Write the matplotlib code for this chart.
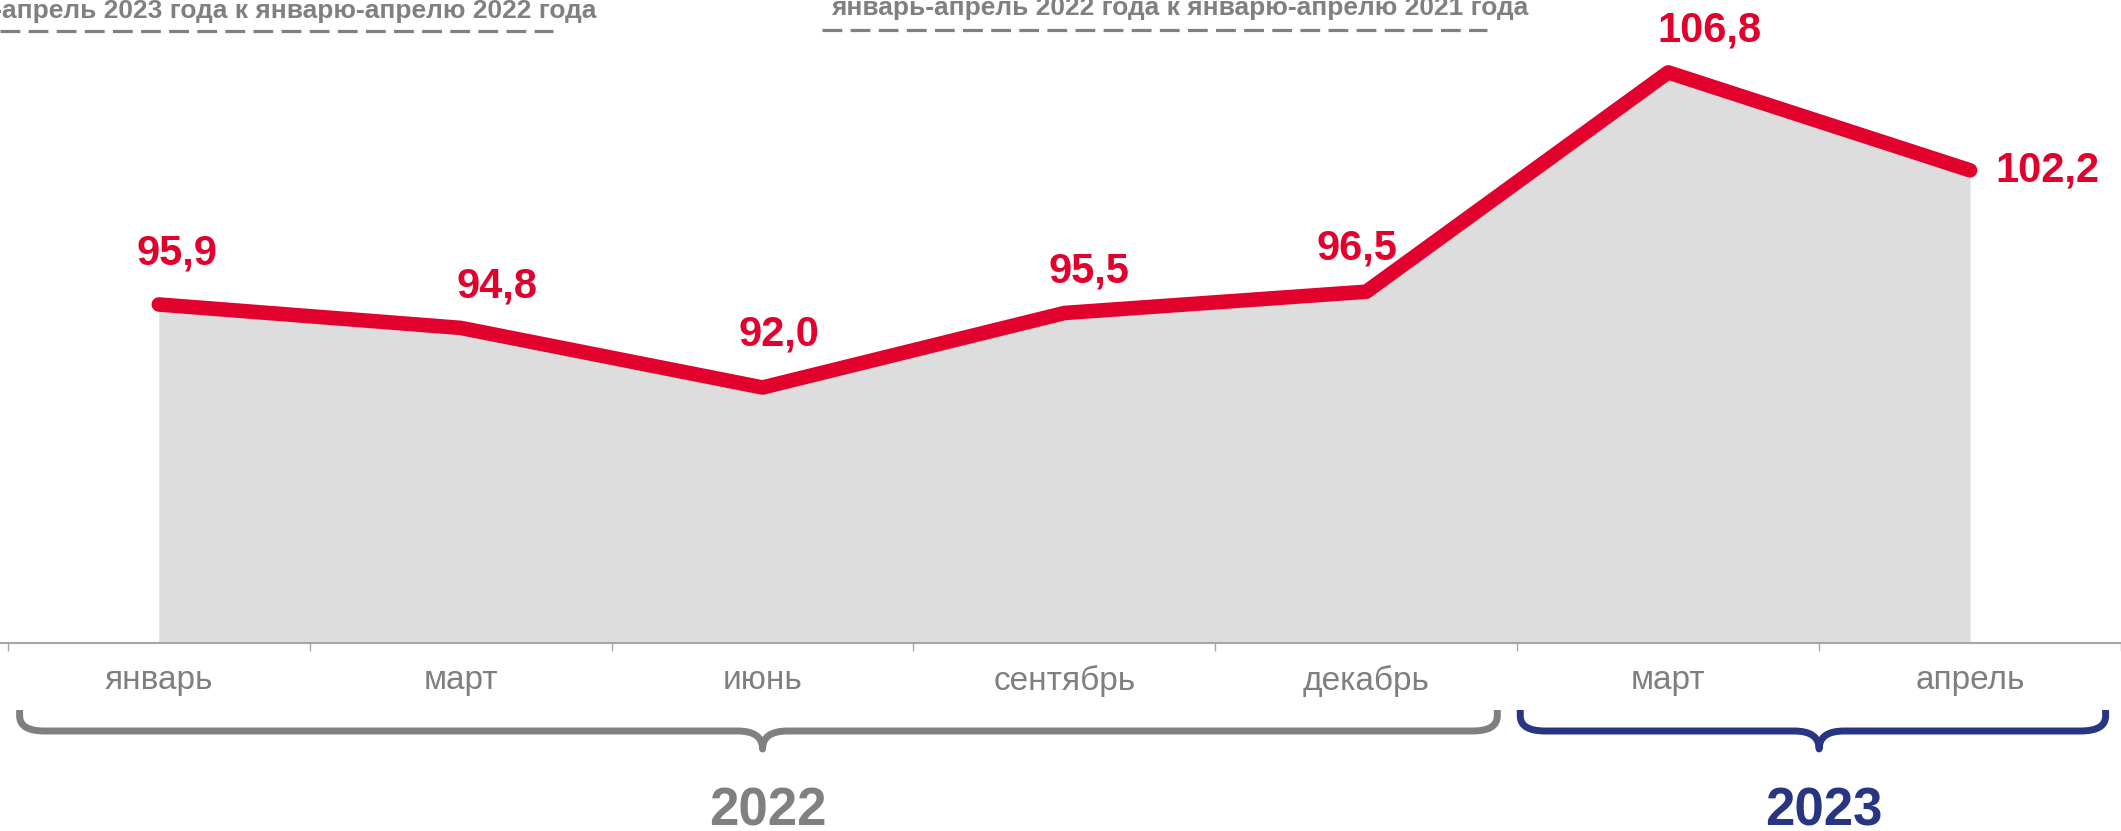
import numpy as np
import matplotlib as mpl
mpl.use('Agg')
import matplotlib.pyplot as plt
from matplotlib.path import Path
from matplotlib.patches import PathPatch

# ── data ────────────────────────────────────────────────────────────────
months   = ['январь', 'март', 'июнь', 'сентябрь', 'декабрь', 'март', 'апрель']
values   = [95.9, 94.8, 92.0, 95.5, 96.5, 106.8, 102.2]
labels   = ['95,9', '94,8', '92,0', '95,5', '96,5', '106,8', '102,2']
years    = ['2022', '2023']
year_idx = [(0, 4), (5, 6)]          # first / last month index of each year
year_mid = [2.0, 5.5]                # where the brace points
header1  = 'январь-апрель 2023 года к январю-апрелю 2022 года'
header2  = 'январь-апрель 2022 года к январю-апрелю 2021 года'

# ── styles ──────────────────────────────────────────────────────────────
RED, FILL, GREY, NAVY = '#E2002D', '#DDDDDD', '#808080', '#283583'
FONT = 'Liberation Sans'
W, H = 2121, 831
axis_y = 643                          # pixel row of the x axis
# label offsets (points) from each point
offs = [(13, 37), (26, 30), (12, 38), (18, 30), (-7, 31), (30, 30), (18, 0)]

plt.rcParams['font.family'] = [FONT, 'DejaVu Sans']

fig = plt.figure(figsize=(W / 100, H / 100), dpi=100)
ax = fig.add_axes([0, 1 - axis_y / H, 1, axis_y / H])
px = fig.add_axes([0, 0, 1, 1], zorder=-1)
px.set_xlim(0, W)
px.set_ylim(H, 0)
px.axis('off')

x = np.arange(len(values))
ax.fill_between(x, 80, values, color=FILL, lw=0)
ax.plot(x, values, color=RED, lw=10.5, solid_capstyle='round', solid_joinstyle='round')
for xi, v, lab, (dx, dy) in zip(x, values, labels, offs):
    ax.annotate(lab, (xi, v), xytext=(dx, dy), textcoords='offset points',
                ha='left' if dy == 0 else 'center', va='center',
                color=RED, fontsize=30, fontweight='bold')

ax.set_ylim(80, 110.2)
ax.set_xlim(-0.526, 6.456)
ax.set_yticks([])
for s in ['top', 'left', 'right']:
    ax.spines[s].set_visible(False)
ax.spines['bottom'].set_color('#A6A6A6')
ax.spines['bottom'].set_linewidth(1.5)
ax.set_facecolor('none')
ax.set_xticks(x)
ax.set_xticklabels(months, color='#7F7F7F', fontsize=24)
ax.set_xticks(np.arange(-0.5, len(values)), minor=True)
ax.tick_params(axis='x', which='major', length=0, pad=16)
ax.tick_params(axis='x', which='minor', length=6, color='#A6A6A6', width=1)


# ── year braces ─────────────────────────────────────────────────────────
def brace(x0, x1, xm, color, y0=710, y1=731, y2=749, r=25):
    xa, xb, xc = ax.transData.transform([(x0, 0), (x1, 0), (xm, 0)])[:, 0]
    verts = [(xa, y0), (xa, y1 - r * 0.6), (xa, y1), (xa + r, y1),
             (xc - r, y1), (xc, y1), (xc, y2),
             (xc, y1), (xc + r, y1),
             (xb - r, y1), (xb, y1), (xb, y1 - r * 0.6), (xb, y0)]
    codes = [Path.MOVETO, Path.LINETO, Path.CURVE3, Path.CURVE3,
             Path.LINETO, Path.CURVE3, Path.CURVE3,
             Path.CURVE3, Path.CURVE3,
             Path.LINETO, Path.CURVE3, Path.CURVE3, Path.LINETO]
    px.add_patch(PathPatch(Path(verts, codes), fill=False, ec=color, lw=5,
                           capstyle='butt', joinstyle='round'))
    return xc


for (i0, i1), xm, yr, col, ext in zip(year_idx, year_mid, years, [GREY, NAVY],
                                      [(0.461, 0.434), (0.49, 0.449)]):
    xc = brace(i0 - ext[0], i1 + ext[1], xm, col)
    px.text(xc + 5, 826, yr, ha='center', va='baseline', color=col, fontsize=38,
            fontweight='bold')

# ── headers ─────────────────────────────────────────────────────────────
px.text(596, 18, header1, ha='right', va='baseline', color=GREY, fontsize=19,
        fontweight='bold')
px.plot([0, 553], [31, 31], color=GREY, lw=2.3, dashes=(6.2, 2.6))
px.text(1528, 15, header2, ha='right', va='baseline', color=GREY, fontsize=19,
        fontweight='bold')
px.plot([822, 1487], [30, 30], color=GREY, lw=2.3, dashes=(6.2, 2.6))

fig.savefig('out.png', dpi=100)
